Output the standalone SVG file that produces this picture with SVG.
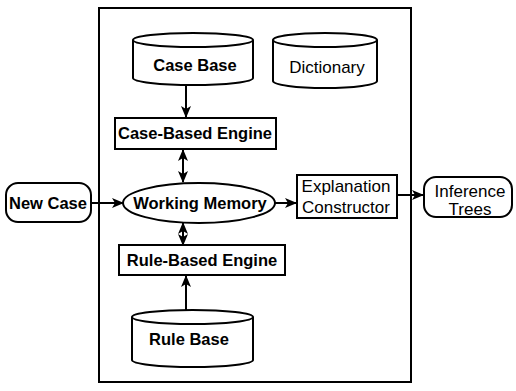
<svg xmlns="http://www.w3.org/2000/svg" width="516" height="391" viewBox="0 0 516 391">
<style>
.s{fill:none;stroke:#000;stroke-width:2}
.w{fill:#fff;stroke:#000;stroke-width:2}
.b{font-family:"Liberation Sans",Arial,sans-serif;font-weight:bold;font-size:16.5px;text-anchor:middle;fill:#000}
.r{font-family:"Liberation Sans",Arial,sans-serif;font-size:17px;text-anchor:middle;fill:#000}
.c{fill:none;stroke:#000;stroke-width:2}
</style>
<defs>
<marker id="ah" viewBox="0 0 12 10" refX="11" refY="5" markerWidth="12" markerHeight="10" markerUnits="userSpaceOnUse" orient="auto-start-reverse">
<path d="M0,0 L12,5 L0,10 L3,5 Z" fill="#000"/>
</marker>
</defs>
<rect id="frame" x="99" y="8" width="312" height="374" class="s"/>
<g id="connectors">
<line x1="186" y1="86" x2="186" y2="117" class="c" marker-end="url(#ah)"/>
<line x1="183" y1="150" x2="183" y2="182" class="c" marker-start="url(#ah)" marker-end="url(#ah)"/>
<line x1="91" y1="203" x2="123" y2="203" class="c" marker-end="url(#ah)"/>
<line x1="183" y1="223" x2="183" y2="245" class="c" marker-start="url(#ah)" marker-end="url(#ah)"/>
<line x1="186" y1="310" x2="186" y2="276" class="c" marker-end="url(#ah)"/>
<line x1="275" y1="203" x2="296" y2="203" class="c" marker-end="url(#ah)"/>
<line x1="397" y1="195" x2="423" y2="195" class="c" marker-end="url(#ah)"/>
</g>
<g id="case-base">
<path d="M133,40 A60,7 0 0 1 253,40 L253,78 A60,7 0 0 1 133,78 Z" class="w"/>
<path d="M133,40 A60,7 0 0 0 253,40" class="s"/>
<text x="195" y="71" class="b">Case Base</text>
</g>
<g id="dictionary">
<path d="M273,40 A52,7 0 0 1 377,40 L377,81 A52,7 0 0 1 273,81 Z" class="w"/>
<path d="M273,40 A52,7 0 0 0 377,40" class="s"/>
<text x="327" y="73" class="r">Dictionary</text>
</g>
<g id="case-based-engine">
<rect x="115" y="118" width="161" height="31" class="w"/>
<text x="195" y="139" class="b">Case-Based Engine</text>
</g>
<g id="new-case">
<rect x="6" y="183" width="85" height="39" rx="12" class="w"/>
<text x="48" y="209" class="b">New Case</text>
</g>
<g id="working-memory">
<ellipse cx="199" cy="203" rx="76" ry="20" class="w"/>
<text x="200" y="209" class="b">Working Memory</text>
</g>
<g id="explanation-constructor">
<rect x="297" y="175" width="100" height="43" class="w"/>
<text x="346" y="192" class="r">Explanation</text>
<text x="346" y="213" class="r">Constructor</text>
</g>
<g id="inference-trees">
<rect x="424" y="177" width="88" height="40" rx="12" class="w"/>
<text x="470" y="197" class="r">Inference</text>
<text x="470" y="215" class="r">Trees</text>
</g>
<g id="rule-based-engine">
<rect x="119" y="245" width="166" height="30" class="w"/>
<text x="202" y="266" class="b">Rule-Based Engine</text>
</g>
<g id="rule-base">
<path d="M132,317 A60.5,7 0 0 1 253,317 L253,360 A60.5,7 0 0 1 132,360 Z" class="w"/>
<path d="M132,317 A60.5,7 0 0 0 253,317" class="s"/>
<text x="189" y="345" class="b">Rule Base</text>
</g>
</svg>
